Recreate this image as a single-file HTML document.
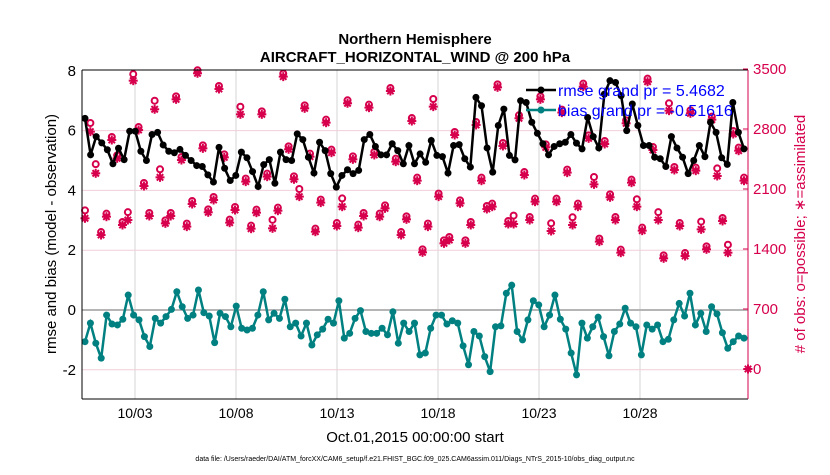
<!DOCTYPE html>
<html><head><meta charset="utf-8"><style>
body{margin:0;background:#fff;width:830px;height:470px;overflow:hidden;font-family:"Liberation Sans",sans-serif}
</style></head><body>
<svg id="chart" width="830" height="470" xmlns="http://www.w3.org/2000/svg" font-family="Liberation Sans, sans-serif">
<text x="415" y="44" text-anchor="middle" font-size="15" font-weight="bold">Northern Hemisphere</text>
<text x="415" y="62" text-anchor="middle" font-size="15" font-weight="bold">AIRCRAFT_HORIZONTAL_WIND @ 200 hPa</text>
<g id="grid"></g><g id="marks"></g><g id="axes"></g>
<text transform="translate(56,234) rotate(-90)" text-anchor="middle" font-size="15">rmse and bias (model - observation)</text>
<text transform="translate(805,234) rotate(-90)" text-anchor="middle" font-size="15" fill="#d6004c"># of obs: o=possible; ∗=assimilated</text>
<text x="415" y="442" text-anchor="middle" font-size="15">Oct.01,2015 00:00:00 start</text>
<text x="415" y="461" text-anchor="middle" font-size="7">data file: /Users/raeder/DAI/ATM_forcXX/CAM6_setup/f.e21.FHIST_BGC.f09_025.CAM6assim.011/Diags_NTrS_2015-10/obs_diag_output.nc</text>
</svg>
<script>
const rmse=[6.41,5.19,5.8,5.59,5.36,4.89,5.41,5.03,5.98,5.98,5.31,5.0,5.87,5.94,5.52,5.31,5.26,5.37,5.17,5.0,4.83,4.8,4.52,4.28,5.44,4.74,4.33,4.5,5.28,5.09,4.63,4.13,4.86,5.03,4.24,5.28,5.03,5.0,5.89,
5.7,5.11,4.58,5.61,5.33,4.56,4.11,4.5,4.69,4.56,4.67,5.7,5.87,5.47,5.19,5.19,5.56,5.33,4.89,5.5,4.89,5.22,4.94,5.67,5.17,5.13,4.58,5.5,5.53,5.06,4.78,7.11,6.83,5.42,4.61,6.17,6.72,5.17,5.02,7.0,6.94,
6.28,5.91,5.56,5.19,5.47,5.56,5.61,5.87,5.58,5.39,6.44,5.8,5.42,7.22,7.67,7.61,7.17,6.0,6.89,6.17,5.5,5.5,5.11,5.06,4.8,5.8,5.42,5.11,4.56,5.0,5.5,5.13,6.28,5.94,5.09,4.87,6.94,5.94,5.39];
const bias=[-1.06,-0.44,-1.11,-1.61,-0.17,-0.47,-0.5,-0.31,0.5,-0.17,-0.33,-0.89,-1.22,-0.28,-0.44,-0.22,0.02,0.61,0.11,-0.28,-0.17,0.67,-0.09,-0.2,-1.09,-0.11,-0.22,-0.56,0.13,-0.61,-0.67,-0.61,-0.17,0.61,-0.33,-0.11,-0.28,0.36,-0.56,
-0.44,-0.87,-0.44,-1.17,-0.83,-0.64,-0.31,-0.44,0.31,-0.94,-0.78,-0.28,-0.02,-0.72,-0.78,-0.78,-0.61,-0.83,-0.06,-1.11,-0.44,-0.72,-0.44,-1.5,-1.44,-0.61,-0.17,-0.17,-0.47,-0.36,-0.44,-1.2,-1.83,-0.72,-0.87,-1.56,-2.06,-0.56,-0.53,0.56,0.83,
-0.72,-1.0,-0.33,0.31,0.17,-0.56,-0.17,0.5,-0.31,-0.64,-1.44,-2.17,-0.44,-0.94,-0.56,-0.24,-0.89,-1.53,-0.72,-0.47,0.06,-0.44,-0.56,-1.5,-0.5,-0.64,-0.5,-1.06,-0.98,-0.33,0.22,-0.2,0.56,-0.5,-0.11,-0.72,0.11,-0.13,-0.76,-1.28,-1.06,-0.87,-0.94];
const nAssim=[1758,2769,2283,1563,1777,2672,2458,1680,1738,3364,2788,2135,1785,3030,2236,1699,1785,3146,2438,1661,1925,3450,2574,1828,1972,3267,2469,1707,1855,2971,2186,1637,1824,2971,2244,1641,1847,3411,2563,2213,
2011,3041,2477,1602,1941,2874,2524,1668,1894,3100,2446,1649,1785,3049,2497,1777,1874,3243,2419,1563,1746,2893,2197,1361,1661,3061,2011,1466,1505,2730,1933,1466,1680,2847,2197,1867,1894,3286,2602,1692,1692,2925,
2263,1738,1952,3146,2586,1610,1952,2991,2291,1680,1894,3294,2691,2154,1486,2625,2003,1738,1357,2866,2174,1894,1614,3352,2555,1738,1291,3014,2322,1668,1318,2983,2314,1629,1396,2909,2252,1727,1357,2742,2547,2197];
const possibleIdx=[0,1,2,8,9,13,14,29,35,40,48,65,80,87,91,95,103,107,109,115,118,120];
const possibleVal=[1850,2870,2390,1830,3440,3130,2330,3060,1740,2100,1990,3150,1790,1700,1770,2240,1980,1830,3100,1720,2340,1450];
const edgeZeroObs=[0];
const xTickLabels=["10/03","10/08","10/13","10/18","10/23","10/28"];
const xTickDays=[3,8,13,18,23,28];
const yTicks=[8,6,4,2,0,-2];
const rTicks=[3500,2800,2100,1400,700,0];

const NS="http://www.w3.org/2000/svg";
const X0=82,X1=748,Y0=70,Y1=399;
const OBS='#d6004c';
const xDay=d=>135+(d-3)*20.2;
const yL=v=>310-v*29.9;
const yR=v=>369-v*60/700;
const tOf=(i,n)=>0.05+i*(32.7/(n-1));
const xOf=(i,n)=>X0+2+(tOf(i,n)/32.75)*(X1-X0-6);
function mk(tag,attrs,parent){const e=document.createElementNS(NS,tag);for(const k in attrs)e.setAttribute(k,attrs[k]);parent.appendChild(e);return e;}
const grid=document.getElementById('grid'),marks=document.getElementById('marks'),axes=document.getElementById('axes');
mk('rect',{x:X0,y:Y0,width:X1-X0,height:Y1-Y0,fill:'#fff'},grid);
xTickDays.forEach((d,i)=>{
 const l=mk('line',{x1:xDay(d),x2:xDay(d),y1:Y0,y2:Y1,stroke:'#d4d4d4','stroke-width':1},grid);
 
 
 const t=mk('text',{x:xDay(d),y:418,'text-anchor':'middle','font-size':14},axes);t.textContent=xTickLabels[i];
 
 
});
yTicks.forEach(v=>{
 if(v!==0&&v!==8){const l=mk('line',{x1:X0,x2:X1,y1:yL(v),y2:yL(v),stroke:'#f0cfd9','stroke-width':1},grid);
 
 }
 const t=mk('text',{x:76,y:yL(v)+5,'text-anchor':'end','font-size':15},axes);t.textContent=v;
 
 
});
const zl=mk('line',{x1:X0,x2:X1,y1:yL(0),y2:yL(0),stroke:'#b5b5b5','stroke-width':2},grid);


rTicks.forEach(v=>{
 mk('line',{x1:X1,x2:X1-5,y1:yR(v),y2:yR(v),stroke:OBS},axes);
 const t=mk('text',{x:753,y:yR(v)+5,'font-size':15,fill:OBS},axes);t.textContent=v;
 
 
});
function star(x,y,parent){
 const g=mk('g',{stroke:OBS,'stroke-width':2,fill:OBS},parent);
 mk('circle',{cx:x,cy:y,r:2.6,stroke:'none'},g);
 mk('line',{x1:x-4.5,x2:x+4.5,y1:y,y2:y},g);
 mk('line',{x1:x,x2:x,y1:y-4.5,y2:y+4.5},g);
 mk('line',{x1:x-3.2,x2:x+3.2,y1:y-3.2,y2:y+3.2},g);
 mk('line',{x1:x-3.2,x2:x+3.2,y1:y+3.2,y2:y-3.2},g);
 return g;
}
const nA=nAssim.length;
nAssim.forEach((v,i)=>{
 const x=xOf(i,nA);
 const k=possibleIdx.indexOf(i);
 const cy=k>=0?yR(possibleVal[k]):yR(v)-3;
 const c=mk('circle',{cx:x,cy:cy,r:3,fill:'#fff',stroke:OBS,'stroke-width':2},marks);
 
 
 const g=star(x,yR(v),marks);
 
 
});
edgeZeroObs.forEach(v=>{
 const g=star(X1,yR(v),marks);
 
 
});
function series(arr,color,name){
 const n=arr.length;
 const pts=arr.map((v,i)=>[xOf(i,n),yL(v)]);
 const p=mk('polyline',{points:pts.map(p=>p.join(',')).join(' '),fill:'none',stroke:color,'stroke-width':2.5},marks);
 
 
 pts.forEach(q=>{const c=mk('circle',{cx:q[0],cy:q[1],r:3.5,fill:color},marks);
 
 });
}
series(rmse,'#000','rmse');
series(bias,'#008080','bias');
mk('line',{x1:X0,x2:X1,y1:Y0,y2:Y0,stroke:'#000'},axes);
mk('line',{x1:X0,x2:X1,y1:Y1,y2:Y1,stroke:'#000'},axes);
mk('line',{x1:X0,x2:X0,y1:Y0,y2:Y1,stroke:'#000'},axes);
mk('line',{x1:X1,x2:X1,y1:Y0,y2:Y1,stroke:OBS},axes);
[['#000','rmse grand pr = 5.4682',90,'legend-entry-rmse'],['#008080','bias grand pr = -0.51616',110,'legend-entry-bias']].forEach(L=>{
 const g=mk('g',{},axes);
 
 
 mk('line',{x1:526,x2:556,y1:L[2],y2:L[2],stroke:L[0],'stroke-width':2.5},g);
 mk('circle',{cx:541,cy:L[2],r:3.5,fill:L[0]},g);
 const t=mk('text',{x:558,y:L[2]+6,'font-size':16,fill:'#0000ff'},g);t.textContent=L[1];
});
</script>
</body></html>
